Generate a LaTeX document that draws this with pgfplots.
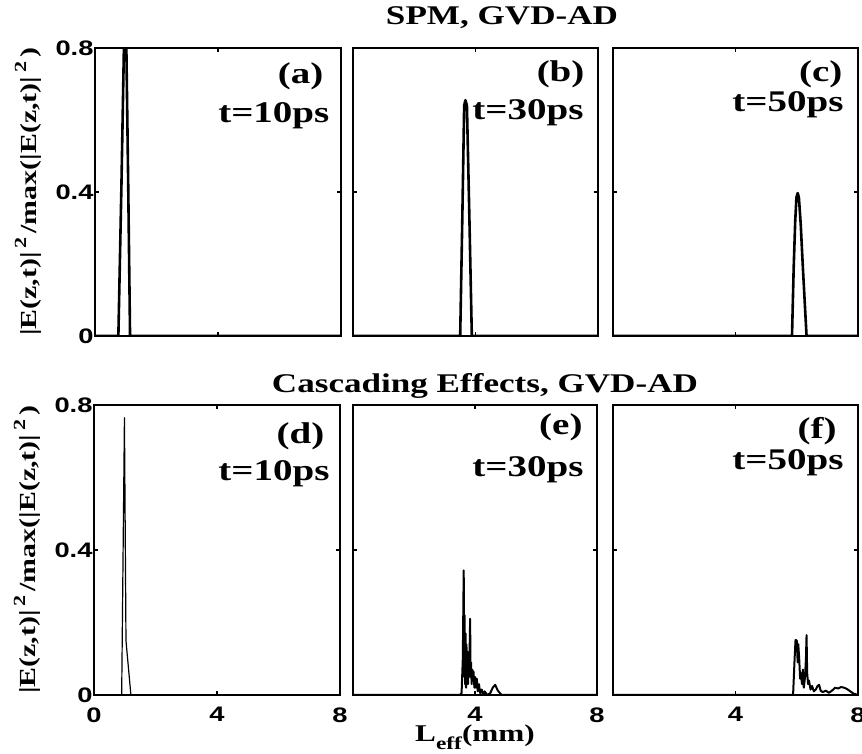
\documentclass[border=0pt]{standalone}
\usepackage{pgfplots}
\pgfplotsset{compat=1.18}
\usepackage{fontspec}
\newfontfamily\serifb[FakeStretch=1.3]{Liberation Serif}
\newfontfamily\sansb[FakeStretch=1.3]{Liberation Sans}
\newcommand\ticksfont{\sansb\bfseries\fontsize{21}{21}\selectfont}
\newcommand\lblfont{\serifb\bfseries\fontsize{30}{30}\selectfont}
\newcommand\ttlfont{\serifb\bfseries\fontsize{27}{27}\selectfont}
\newcommand\yfont{\serifb\bfseries\fontsize{23}{23}\selectfont}
\newcommand\sq{\,\raisebox{0.45em}{\fontsize{17}{17}\selectfont 2}\,}
\pgfplotsset{
  panel/.style={
    scale only axis, anchor=south west,
    xmin=0, xmax=8, ymin=0, ymax=0.8,
    xtick={0,4,8}, ytick={0,0.4,0.8},
    tick align=inside, major tick length=4pt,
    axis line style={line width=1.6pt},
    every tick/.style={line width=1.2pt, black},
    tick label style={font=\ticksfont},
    /pgf/number format/assume math mode=true,
    xticklabel style={yshift=-9pt},
    yticklabel style={xshift=2pt},
    xticklabels={}, yticklabels={},
  },
  ylab/.style={
    yticklabels={0,0.4,0.8},
    ylabel={\yfont |E(z,t)|\sq/max(|E(z,t)|\sq)},
    ylabel style={at={(axis description cs:-0.272,0.5)}, anchor=center},
  },
  every axis plot/.append style={black, no marks, line join=round},
}
\begin{document}
\begin{tikzpicture}
\useasboundingbox (0,0) rectangle (862pt,754pt);
\node[anchor=base] at (502pt,729pt) {\ttlfont SPM, GVD-AD};
\node[anchor=base] at (485pt,361pt) {\ttlfont Cascading Effects, GVD-AD};
% (a)
\begin{axis}[panel, ylab, at={(95pt,418pt)}, width=246pt, height=288pt]
\addplot[line width=2.6pt] coordinates {(0,0) (0.76,0) (0.86,0.42) (0.94,0.80) (0.98,0.97) (1.02,0.80) (1.08,0.42) (1.14,0) (8,0)};
\node[anchor=base east] at (rel axis cs:0.943,0.878) {\lblfont (a)};
\node[anchor=base east] at (rel axis cs:0.967,0.740) {\lblfont t=10ps};
\end{axis}
% (b)
\begin{axis}[panel, at={(353pt,418pt)}, width=245pt, height=288pt]
\addplot[line width=2.6pt] coordinates {(0,0) (3.50,0) (3.57,0.33) (3.63,0.64) (3.67,0.655) (3.72,0.64) (3.80,0.33) (3.88,0) (8,0)};
\node[anchor=base east] at (rel axis cs:0.959,0.882) {\lblfont (b)};
\node[anchor=base east] at (rel axis cs:0.955,0.750) {\lblfont t=30ps};
\end{axis}
% (c)
\begin{axis}[panel, at={(613pt,418pt)}, width=245pt, height=288pt]
\addplot[line width=2.6pt] coordinates {(0,0) (5.845,0) (5.90,0.19) (5.95,0.32) (5.99,0.385) (6.03,0.397) (6.07,0.385) (6.13,0.31) (6.20,0.19) (6.32,0) (8,0)};
\node[anchor=base east] at (rel axis cs:0.951,0.882) {\lblfont (c)};
\node[anchor=base east] at (rel axis cs:0.955,0.778) {\lblfont t=50ps};
\end{axis}
% (d)
\begin{axis}[panel, ylab, at={(94pt,59pt)}, width=246pt, height=290pt, xticklabels={0,4,8}]
\addplot[line width=1.2pt] coordinates {(0,0) (0.90,0) (0.99,0.765) (1.04,0.15) (1.20,0) (8,0)};
\node[anchor=base east] at (rel axis cs:0.951,0.866) {\lblfont (d)};
\node[anchor=base east] at (rel axis cs:0.972,0.741) {\lblfont t=10ps};
\end{axis}
% (e)
\begin{axis}[panel, at={(353pt,59pt)}, width=244pt, height=290pt, xticklabels={,4,8},
  xlabel={\serifb\bfseries\fontsize{24}{24}\selectfont L\raisebox{-0.35em}{\fontsize{18}{18}\selectfont eff}(mm)},
  xlabel style={at={(axis description cs:0.5,-0.16)}, anchor=base}]
\addplot[line width=2pt] coordinates {(0,0) (3.50,0) (3.56,0.005) (3.60,0.10) (3.63,0.344) (3.645,0.05) (3.66,0.22) (3.675,0.03) (3.69,0.17) (3.705,0.02) (3.72,0.14) (3.735,0.04) (3.75,0.12) (3.77,0.03) (3.79,0.10) (3.81,0.05) (3.84,0.21) (3.855,0.05) (3.87,0.09) (3.89,0.03) (3.91,0.07) (3.93,0.04) (3.95,0.065) (3.98,0.02) (4.00,0.05) (4.03,0.02) (4.06,0.045) (4.09,0.01) (4.13,0.03) (4.17,0.005) (4.22,0.015) (4.27,0.0) (4.32,0.01) (4.40,0.0) (4.50,0.005) (4.58,0.02) (4.66,0.028) (4.75,0.012) (4.87,0) (8,0)};
\node[anchor=base east] at (rel axis cs:0.955,0.897) {\lblfont (e)};
\node[anchor=base east] at (rel axis cs:0.959,0.752) {\lblfont t=30ps};
\end{axis}
% (f)
\begin{axis}[panel, at={(613pt,59pt)}, width=245pt, height=290pt, xticklabels={,4,8}]
\addplot[line width=2pt] coordinates {(0,0) (5.88,0) (5.93,0.10) (5.96,0.152) (6.00,0.15) (6.03,0.09) (6.05,0.14) (6.08,0.10) (6.11,0.045) (6.14,0.06) (6.17,0.03) (6.20,0.07) (6.23,0.02) (6.27,0.05) (6.30,0.10) (6.32,0.165) (6.34,0.06) (6.37,0.03) (6.40,0.04) (6.45,0.015) (6.50,0.025) (6.56,0.01) (6.62,0.015) (6.68,0.025) (6.73,0.028) (6.78,0.012) (6.85,0.008) (6.95,0.012) (7.05,0.006) (7.15,0.012) (7.25,0.02) (7.35,0.018) (7.45,0.022) (7.55,0.02) (7.65,0.016) (7.75,0.01) (7.85,0.004) (8,0)};
\node[anchor=base east] at (rel axis cs:0.927,0.883) {\lblfont (f)};
\node[anchor=base east] at (rel axis cs:0.955,0.779) {\lblfont t=50ps};
\end{axis}
\end{tikzpicture}
\end{document}
